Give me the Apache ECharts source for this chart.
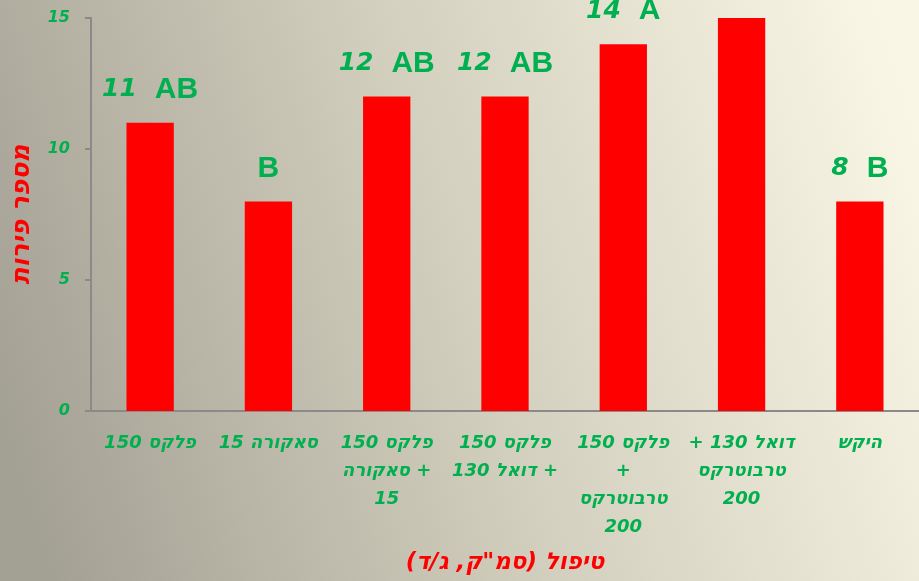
<!DOCTYPE html>
<html>
<head>
<meta charset="utf-8">
<script src="https://cdn.jsdelivr.net/npm/echarts@6/dist/echarts.min.js"></script>
<style>
  html, body { margin: 0; padding: 0; }
  #main { width: 919px; height: 581px; }
</style>
</head>
<body>
<div id="main"></div>
<script>
// טיפולים ומספר פירות
var categories = [
  'פלקס 150',
  'סאקורה 15',
  'פלקס 150\n+ סאקורה\n15',
  'פלקס 150\n+ דואל 130',
  'פלקס 150\n+\nטרבוטרקס\n200',
  'דואל 130 +\nטרבוטרקס\n200',
  'היקש'
]
var fruitCount = [11, 8, 12, 12, 14, 15, 8]
var groupLetters = ['AB', 'B', 'AB', 'AB', 'A', '', 'B']
var showNumber = [true, false, true, true, true, false, true]
var yTicks = [0, 5, 10, 15]

var green = '#00b050'
var red = '#ff0000'
var heb = 'DejaVu Sans'

// עוטף שורה בכיווניות מימין לשמאל
function rtl(s) {
  return s.split('\n').map(function (l) { return '\u202B' + l + '\u202C' }).join('\n')
}

var myChart = echarts.init(document.getElementById('main'))
var option = {
  backgroundColor: new echarts.graphic.LinearGradient(0, 0.75, 1, 0.25, [
    { offset: 0, color: '#a3a094' },
    { offset: 0.5, color: '#d3cfbe' },
    { offset: 1, color: '#f9f6e6' }
  ]),
  grid: {
    left: 91,
    top: 18,
    width: 835,
    height: 393
  },
  xAxis: {
    type: 'category',
    data: categories,
    name: rtl('טיפול (סמ"ק, ג/ד)'),
    nameLocation: 'middle',
    nameGap: 141,
    nameTextStyle: {
      color: red,
      fontSize: 23,
      fontWeight: 'bold',
      fontStyle: 'italic',
      fontFamily: heb
    },
    axisLine: { lineStyle: { color: '#8a8a8a', width: 2 } },
    axisTick: { length: 6, lineStyle: { color: '#8a8a8a', width: 2 } },
    axisLabel: {
      interval: 0,
      margin: 18,
      color: green,
      fontSize: 18,
      fontWeight: 'bold',
      fontStyle: 'italic',
      fontFamily: heb,
      lineHeight: 28,
      formatter: function (v) { return rtl(v) }
    }
  },
  yAxis: {
    type: 'value',
    min: 0,
    max: 15,
    interval: 5,
    name: rtl('מספר פירות'),
    nameLocation: 'middle',
    nameGap: 56,
    nameTextStyle: {
      color: red,
      fontSize: 25,
      fontWeight: 'bold',
      fontStyle: 'italic',
      fontFamily: heb
    },
    splitLine: { show: false },
    axisLine: { show: true, lineStyle: { color: '#8a8a8a', width: 2 } },
    axisTick: { show: true, length: 6, lineStyle: { color: '#8a8a8a', width: 2 } },
    axisLabel: {
      margin: 21,
      color: green,
      fontSize: 16,
      fontWeight: 'bold',
      fontStyle: 'italic',
      fontFamily: heb,
      formatter: function (v) { return yTicks.indexOf(v) >= 0 ? String(v) : '' }
    }
  },
  series: [
    {
      type: 'bar',
      data: fruitCount,
      barWidth: '40%',
      itemStyle: { color: red },
      label: {
        show: true,
        position: 'top',
        distance: 18,
        formatter: function (p) {
          var i = p.dataIndex
          if (!groupLetters[i]) return ''
          if (!showNumber[i]) return '{l|' + groupLetters[i] + '}'
          return '{n|' + p.value + '}{l|' + groupLetters[i] + '}'
        },
        rich: {
          n: {
            color: green,
            fontSize: 25,
            fontWeight: 'bold',
            fontStyle: 'italic',
            fontFamily: heb,
            padding: [0, 18, 0, 0]
          },
          l: {
            color: green,
            fontSize: 30,
            fontWeight: 'bold',
            fontFamily: 'Liberation Sans'
          }
        }
      }
    }
  ]
}
myChart.setOption(option)
</script>
</body>
</html>
